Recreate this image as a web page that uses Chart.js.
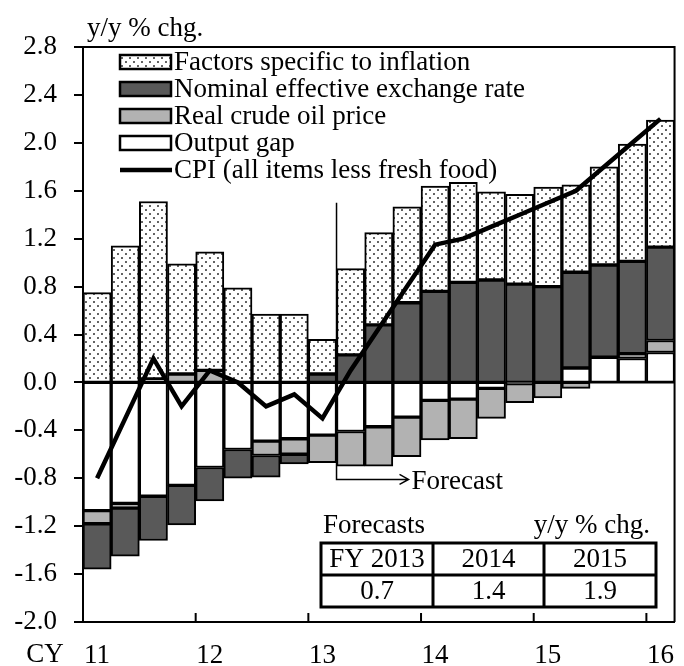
<!DOCTYPE html>
<html>
<head>
<meta charset="utf-8">
<script src="https://cdn.jsdelivr.net/npm/chart.js@4.4.0/dist/chart.umd.min.js"></script>
<style>
  html, body { margin: 0; padding: 0; background: #fff; }
  .wrap { width: 684px; height: 666px; position: relative; }
</style>
</head>
<body>
<div class="wrap"><canvas id="cpiChart"></canvas></div>
<script>
const quarters = [
  '2011Q1', '2011Q2', '2011Q3', '2011Q4',
  '2012Q1', '2012Q2', '2012Q3', '2012Q4',
  '2013Q1', '2013Q2', '2013Q3', '2013Q4',
  '2014Q1', '2014Q2', '2014Q3', '2014Q4',
  '2015Q1', '2015Q2', '2015Q3', '2015Q4',
  '2016Q1'
];
const yearLabels = ['11', '12', '13', '14', '15', '16'];

// contributions, y/y % chg.
const outputGap = [-1.07, -1.01, -0.95, -0.86, -0.71, -0.56, -0.49, -0.47, -0.44, -0.41, -0.37, -0.29, -0.15, -0.14, -0.05, -0.01, 0, 0.12, 0.21, 0.20, 0.25];
const crudeOil = [-0.11, -0.04, 0.03, 0.07, 0.10, 0, -0.12, -0.13, -0.23, -0.29, -0.33, -0.33, -0.33, -0.33, -0.25, -0.16, -0.13, -0.05, 0, 0.04, 0.10];
const exchangeRate = [-0.38, -0.40, -0.37, -0.33, -0.28, -0.24, -0.18, -0.08, 0.07, 0.23, 0.48, 0.665, 0.76, 0.835, 0.855, 0.82, 0.80, 0.80, 0.77, 0.77, 0.78];
const specificFactors = [0.75, 1.14, 1.48, 0.92, 0.99, 0.79, 0.57, 0.57, 0.29, 0.72, 0.77, 0.80, 0.88, 0.835, 0.735, 0.75, 0.83, 0.73, 0.82, 0.98, 1.06];
const cpi = [-0.8, -0.3, 0.2, -0.2, 0.1, 0.0, -0.2, -0.1, -0.3, 0.1, 0.45, 0.8, 1.15, 1.2, 1.3, 1.4, 1.5, 1.6, 1.8, 2.0, 2.2];

const forecastStart = 9; // first forecast quarter (index)
const forecastYears = ['FY 2013', '2014', '2015'];
const forecastValues = ['0.7', '1.4', '1.9'];

const FONT = '"Liberation Serif", "Times New Roman", serif';
const FS = 27;
Chart.defaults.font.family = FONT;
Chart.defaults.font.size = FS;
Chart.defaults.color = '#000';

// dotted fill for "Factors specific to inflation"
function makeDots() {
  const c = document.createElement('canvas');
  c.width = 8; c.height = 8;
  const g = c.getContext('2d');
  g.fillStyle = '#fff';
  g.fillRect(0, 0, 8, 8);
  g.fillStyle = '#222';
  [[2, 2], [6, 6]].forEach(([px, py]) => {
    g.beginPath();
    g.arc(px, py, 0.95, 0, Math.PI * 2);
    g.fill();
  });
  return g.createPattern(c, 'repeat');
}
const dots = makeDots();

const legendItems = [
  { label: 'Factors specific to inflation', fill: dots },
  { label: 'Nominal effective exchange rate', fill: '#595959' },
  { label: 'Real crude oil price', fill: '#b2b2b2' },
  { label: 'Output gap', fill: '#ffffff' },
  { label: 'CPI (all items less fresh food)', line: true }
];

const extras = {
  id: 'extras',
  beforeDatasetsDraw(chart) {
    const { ctx, chartArea: a, scales: { x, y } } = chart;
    const half = (x.getPixelForValue(1) - x.getPixelForValue(0)) / 2;
    ctx.save();
    ctx.strokeStyle = '#000';
    // zero line
    ctx.lineWidth = 2;
    ctx.beginPath();
    ctx.moveTo(a.left, y.getPixelForValue(0));
    ctx.lineTo(a.right, y.getPixelForValue(0));
    ctx.stroke();
    // forecast marker
    const fx = x.getPixelForValue(forecastStart) - half;
    const ay = y.getPixelForValue(-0.81);
    const ax = fx + 72;
    ctx.lineWidth = 1.5;
    ctx.beginPath();
    ctx.moveTo(fx, y.getPixelForValue(1.5));
    ctx.lineTo(fx, ay);
    ctx.lineTo(ax, ay);
    ctx.moveTo(ax - 9, ay - 5);
    ctx.lineTo(ax, ay);
    ctx.lineTo(ax - 9, ay + 5);
    ctx.stroke();
    ctx.fillStyle = '#000';
    ctx.font = FS + 'px ' + FONT;
    ctx.textBaseline = 'middle';
    ctx.textAlign = 'left';
    ctx.fillText('Forecast', ax + 3, ay + 2);
    ctx.restore();
  },
  afterDraw(chart) {
    const { ctx, chartArea: a, scales: { x, y } } = chart;
    const half = (x.getPixelForValue(1) - x.getPixelForValue(0)) / 2;
    ctx.save();
    ctx.strokeStyle = '#000';
    ctx.fillStyle = '#000';
    // frame top and right
    ctx.lineWidth = 2;
    ctx.beginPath();
    ctx.moveTo(a.left, a.top);
    ctx.lineTo(a.right, a.top);
    ctx.lineTo(a.right, a.bottom);
    ctx.stroke();
    // year ticks pointing up
    for (let i = 4; i < quarters.length; i += 4) {
      const tx = x.getPixelForValue(i) - half;
      ctx.beginPath();
      ctx.moveTo(tx, a.bottom);
      ctx.lineTo(tx, a.bottom - 9);
      ctx.stroke();
    }
    ctx.font = FS + 'px ' + FONT;
    ctx.textBaseline = 'alphabetic';
    ctx.textAlign = 'left';
    ctx.fillText('y/y % chg.', 87, 36);
    ctx.textBaseline = 'middle';
    ctx.textAlign = 'center';
    ctx.fillText('CY', 45, 655);

    // legend
    legendItems.forEach((it, i) => {
      const cy = 62 + i * 27;
      if (it.line) {
        ctx.lineWidth = 4.5;
        ctx.beginPath();
        ctx.moveTo(120, cy);
        ctx.lineTo(172, cy);
        ctx.stroke();
      } else {
        ctx.fillStyle = it.fill;
        ctx.fillRect(120, cy - 7, 51, 14);
        ctx.lineWidth = 2.5;
        ctx.strokeRect(120, cy - 7, 51, 14);
      }
      ctx.fillStyle = '#000';
      ctx.textAlign = 'left';
      ctx.fillText(it.label, 174, cy + 1);
    });

    // forecast table
    const tl = 321, tr = 656, tt = 543, tm = 575, tb = 607;
    const cols = [321, 433, 544, 656];
    ctx.textAlign = 'left';
    ctx.fillText('Forecasts', 323, 526);
    ctx.textAlign = 'right';
    ctx.fillText('y/y % chg.', 650, 526);
    ctx.fillStyle = '#fff';
    ctx.fillRect(tl, tt, tr - tl, tb - tt);
    ctx.lineWidth = 3;
    ctx.strokeRect(tl, tt, tr - tl, tb - tt);
    ctx.beginPath();
    ctx.moveTo(tl, tm); ctx.lineTo(tr, tm);
    cols.slice(1, 3).forEach(c => { ctx.moveTo(c, tt); ctx.lineTo(c, tb); });
    ctx.stroke();
    ctx.fillStyle = '#000';
    ctx.textAlign = 'center';
    forecastYears.forEach((t, i) => ctx.fillText(t, (cols[i] + cols[i + 1]) / 2, (tt + tm) / 2 + 1));
    forecastValues.forEach((t, i) => ctx.fillText(t, (cols[i] + cols[i + 1]) / 2, (tm + tb) / 2 + 1));
    ctx.restore();
  }
};

const barStyle = {
  borderColor: '#000',
  borderWidth: 2,
  borderSkipped: false,
  categoryPercentage: 1,
  barPercentage: 1,
  order: 1
};

new Chart(document.getElementById('cpiChart'), {
  type: 'bar',
  data: {
    labels: quarters,
    datasets: [
      { ...barStyle, label: 'Output gap', data: outputGap, backgroundColor: '#ffffff' },
      { ...barStyle, label: 'Real crude oil price', data: crudeOil, backgroundColor: '#b2b2b2' },
      { ...barStyle, label: 'Nominal effective exchange rate', data: exchangeRate, backgroundColor: '#595959' },
      { ...barStyle, label: 'Factors specific to inflation', data: specificFactors, backgroundColor: dots },
      {
        type: 'line',
        label: 'CPI (all items less fresh food)',
        data: cpi,
        stack: 'cpi',
        borderColor: '#000',
        borderWidth: 4.5,
        pointRadius: 0,
        tension: 0,
        order: 0
      }
    ]
  },
  options: {
    responsive: true,
    maintainAspectRatio: false,
    animation: false,
    layout: { padding: { top: 47, right: 1, left: 0, bottom: 0 } },
    plugins: { legend: { display: false }, tooltip: { enabled: false } },
    scales: {
      x: {
        stacked: true,
        afterFit: (s) => { s.height = 44; },
        grid: { display: false },
        border: { display: true, color: '#000', width: 2 },
        ticks: {
          autoSkip: false,
          maxRotation: 0,
          padding: 10,
          callback: (v, i) => (i % 4 === 0 ? yearLabels[i / 4] : '')
        }
      },
      y: {
        stacked: true,
        min: -2.0,
        max: 2.8,
        afterFit: (s) => { s.width = 83; },
        grid: { drawOnChartArea: false, color: '#000', lineWidth: 2, tickLength: 9 },
        border: { display: true, color: '#000', width: 2 },
        ticks: {
          stepSize: 0.4,
          padding: 17,
          callback: (v) => (Math.abs(v) < 1e-9 ? 0 : Number(v)).toFixed(1)
        }
      }
    }
  },
  plugins: [extras]
});
</script>
</body>
</html>
